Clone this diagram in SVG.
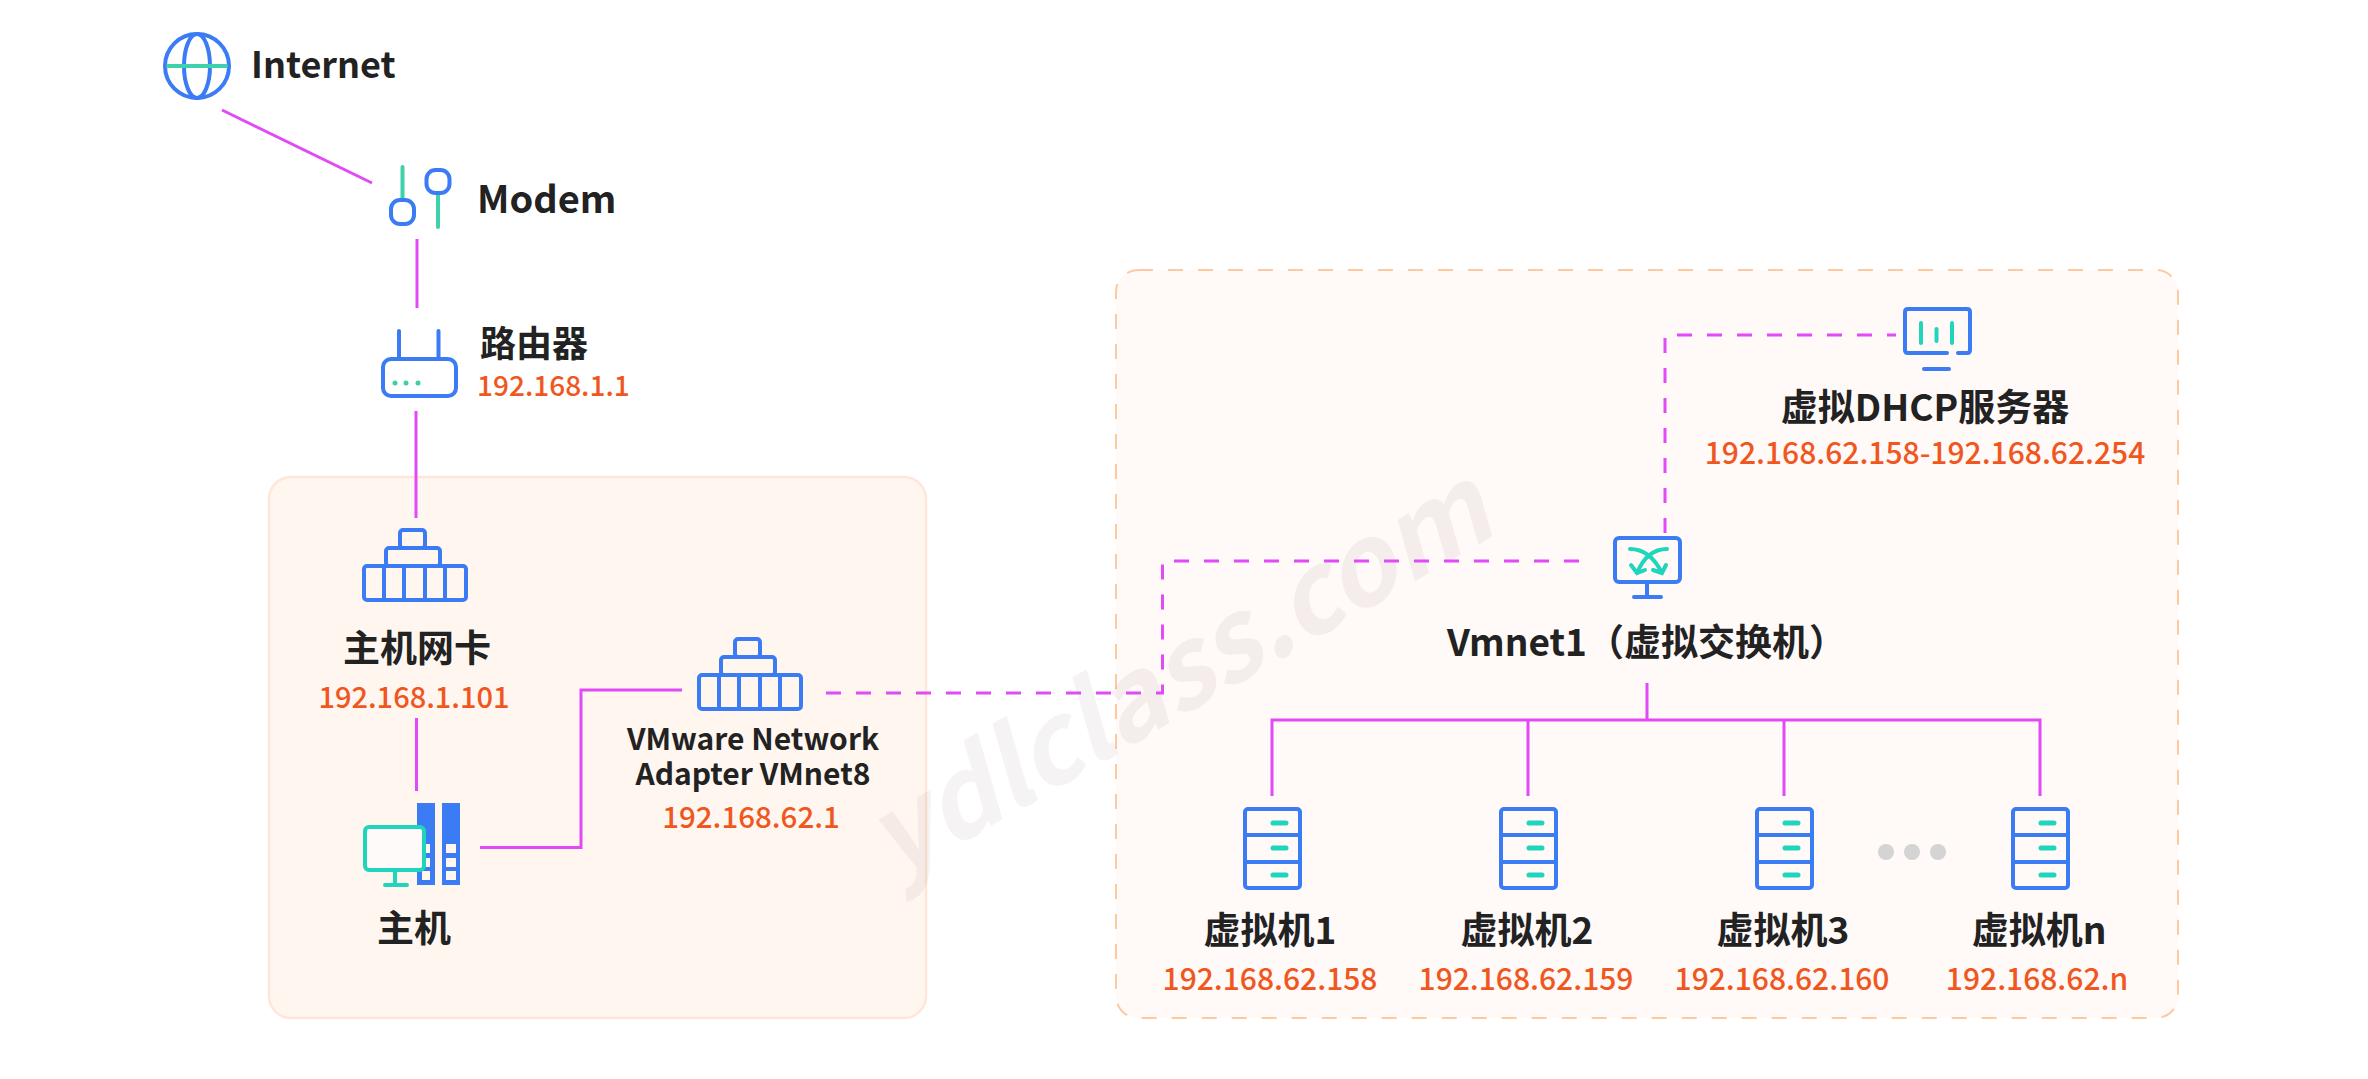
<svg xmlns="http://www.w3.org/2000/svg" width="2368" height="1079" viewBox="0 0 2368 1079">
<style>
text{font-family:"Noto Sans CJK SC","Noto Sans",sans-serif}
.t{font-size:37px;font-weight:700;fill:#222}
.s{font-size:30px;font-weight:700;fill:#222}
.ip{font-size:30px;font-weight:500;fill:#F0571E}
.m{text-anchor:middle}
.b{fill:none;stroke:#3B7CF4;stroke-width:4;stroke-linejoin:round;stroke-linecap:round}
.g{fill:none;stroke:#3FD0AC;stroke-width:4;stroke-linecap:round}
.k{fill:none;stroke:#1FD5BC;stroke-width:4;stroke-linecap:round}
.c{fill:none;stroke:#E14BF5;stroke-width:3}
.d{fill:none;stroke:#E14BF5;stroke-width:3;stroke-dasharray:15 15}
</style>
<defs>
<g id="nic"><rect class="b" x="37" y="0" width="25" height="18" rx="3"/><rect class="b" x="23" y="18" width="54" height="18" rx="3"/><rect class="b" x="1" y="36" width="102" height="34" rx="3"/><path class="b" d="M21 36V70M41 36V70M62 36V70M82 36V70"/></g>
<g id="srv"><rect class="b" x="2" y="2" width="55" height="79" rx="3"/><path class="b" d="M2 28H57M2 55H57"/><path class="k" style="stroke-width:5" d="M30 16H43M30 41H43M30 68H43"/></g>
</defs>
<rect width="2368" height="1079" fill="#fff"/>
<g id="zone-host"><rect x="269" y="477" width="657" height="541" rx="22" fill="#FFF6F0" stroke="#FFE6D8" stroke-width="2.500"/></g>
<g id="zone-vm"><rect x="1116" y="270" width="1062" height="748" rx="22" fill="#FFF9F8" stroke="#FFC9A0" stroke-width="2" stroke-dasharray="15 15"/></g>
<text id="watermark" x="1197" y="707" transform="rotate(-30 1197 707)" text-anchor="middle" font-size="110" font-weight="700" font-style="italic" fill="#6b5a50" fill-opacity="0.07">ydlclass.com</text>
<g id="connectors">
<path class="c" d="M222 110L372 183"/>
<path class="c" d="M417 239V308"/>
<path class="c" d="M416 411V518"/>
<path class="c" d="M416.500 718V791"/>
<path class="c" d="M480 847.500H581V690H682"/>
<path class="d" d="M826 693H1162.500V563"/>
<path class="d" d="M1174 561H1581"/>
<path class="d" d="M1665 533V335H1896"/>
<path class="c" d="M1647 683V720"/>
<path class="c" d="M1272 796V720H2040V796M1528 720V796M1784 720V796"/>
</g>
<g id="internet"><circle class="b" cx="197" cy="66" r="32"/><ellipse class="b" cx="197" cy="66" rx="13" ry="32"/><path class="g" d="M168 66H226"/><text class="t" style="font-size:36px" x="251" y="78">Internet</text></g>
<g id="modem"><path class="g" d="M402.500 167V199M438 194V227"/><rect class="b" x="391" y="200" width="23" height="24" rx="9"/><rect class="b" x="426.500" y="170" width="23" height="23" rx="9"/><text class="t" style="font-size:38px" x="477" y="213">Modem</text></g>
<g id="router"><path class="b" d="M399 331V359M438.500 331V359"/><rect class="b" x="383" y="359" width="73" height="37" rx="8"/><g fill="#3FCFA8"><circle cx="395" cy="383" r="2.500"/><circle cx="406" cy="383" r="2.500"/><circle cx="418" cy="383" r="2.500"/></g><text class="t" style="font-size:36px" x="480" y="357">路由器</text><text class="ip" style="font-size:28px" x="477" y="396">192.168.1.1</text></g>
<g id="host-nic"><use href="#nic" x="363" y="530"/><text class="t m" x="417" y="662">主机网卡</text><text class="ip m" style="font-size:29px" x="414" y="708">192.168.1.101</text></g>
<g id="host"><rect x="417" y="803" width="18" height="82" fill="#3B7CF4"/><rect x="442" y="803" width="18" height="82" fill="#3B7CF4"/>
<g fill="#FFF6F0"><rect x="446" y="844" width="10" height="9"/><rect x="446" y="858" width="10" height="9"/><rect x="446" y="871" width="10" height="9"/><rect x="422" y="844" width="8" height="9"/><rect x="422" y="858" width="8" height="9"/><rect x="422" y="871" width="8" height="9"/></g>
<rect x="365" y="827" width="59" height="43" rx="4" fill="#FFFAFA" stroke="#1FD5BC" stroke-width="4"/><path class="k" d="M395 870V885M385 885H407"/><text class="t m" x="414" y="942">主机</text></g>
<g id="vmnet8"><use href="#nic" x="698" y="639"/><text class="s m"><tspan x="753" y="750">VMware Network</tspan><tspan x="753" y="785">Adapter VMnet8</tspan></text><text class="ip m" style="font-size:29.500px" x="751" y="828">192.168.62.1</text></g>
<g id="dhcp"><path class="b" d="M1947 353H1908Q1905 353 1905 350V312Q1905 309 1908 309H1967Q1970 309 1970 312V350Q1970 353 1967 353H1958"/><path class="b" d="M1924 369H1949"/><path class="k" d="M1921 323V343M1936.500 329V341M1952 323V343"/><text class="t m" x="1925" y="421">虚拟DHCP服务器</text><text class="ip m" x="1925" y="464">192.168.62.158-192.168.62.254</text></g>
<g id="vmnet1"><rect class="b" x="1615" y="538" width="65" height="44" rx="4"/><path class="b" d="M1647 582V597M1634 597H1661"/><path class="k" d="M1630 549Q1650 549 1662 573M1667 549Q1647 549 1637 573M1631 565L1637 573L1645 570M1666 565L1662 573L1653 570"/><text class="t" x="1447" y="656">Vmnet1（虚拟交换机）</text></g>
<g id="vm1"><use href="#srv" x="1243" y="807"/><text class="t m" x="1270" y="944">虚拟机1</text><text class="ip m" x="1270" y="990">192.168.62.158</text></g>
<g id="vm2"><use href="#srv" x="1499" y="807"/><text class="t m" x="1527" y="944">虚拟机2</text><text class="ip m" x="1526" y="990">192.168.62.159</text></g>
<g id="vm3"><use href="#srv" x="1755" y="807"/><text class="t m" x="1783" y="944">虚拟机3</text><text class="ip m" x="1782" y="990">192.168.62.160</text></g>
<g id="vmn"><use href="#srv" x="2011" y="807"/><text class="t m" x="2039" y="944">虚拟机n</text><text class="ip m" x="2037" y="990">192.168.62.n</text></g>
<g id="ellipsis" fill="#D4D4D4"><circle cx="1886" cy="852" r="8"/><circle cx="1912" cy="852" r="8"/><circle cx="1938" cy="852" r="8"/></g>
</svg>
